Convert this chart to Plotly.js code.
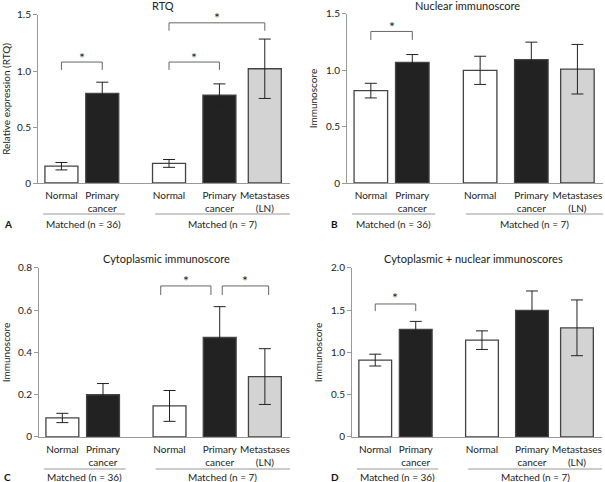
<!DOCTYPE html>
<html>
<head>
<meta charset="utf-8">
<script src="https://cdn.plot.ly/plotly-3.0.1.min.js"></script>
<style>html,body{margin:0;padding:0;background:#fff;}#chart{width:605px;height:482px;}</style>
</head>
<body>
<div id="chart"></div>
<script>
// ---- data ----
const categories = ["Normal", "Primary<br>cancer", "Normal", "Primary<br>cancer", "Metastases<br>(LN)"];
const groupLabels = ["Matched (n = 36)", "Matched (n = 7)"];
const panelTitles = ["RTQ", "Nuclear immunoscore", "Cytoplasmic immunoscore", "Cytoplasmic + nuclear immunoscores"];
const yTitles = ["Relative expression (RTQ)", "Immunoscore", "Immunoscore", "Immunoscore"];
const panelLetters = ["A", "B", "C", "D"];

const rtqMean = [0.15, 0.80, 0.175, 0.785, 1.02];
const rtqErr  = [0.033, 0.10, 0.035, 0.10, 0.265];
const nucMean = [0.82, 1.07, 1.00, 1.095, 1.01];
const nucErr  = [0.065, 0.07, 0.125, 0.155, 0.22];
const cytMean = [0.09, 0.20, 0.147, 0.471, 0.286];
const cytErr  = [0.022, 0.053, 0.073, 0.146, 0.132];
const sumMean = [0.91, 1.273, 1.146, 1.498, 1.292];
const sumErr  = [0.07, 0.095, 0.11, 0.23, 0.33];

const yTickVals = [[0, 0.5, 1.0, 1.5], [0, 0.5, 1.0, 1.5], [0, 0.2, 0.4, 0.6, 0.8], [0, 0.5, 1.0, 1.5, 2.0]];
const yTickText = [["0", "0.5", "1.0", "1.5"], ["0", "0.5", "1.0", "1.5"], ["0", "0.2", "0.4", "0.6", "0.8"], ["0", "0.5", "1.0", "1.5", "2.0"]];
const yRanges = [[0, 1.5], [0, 1.5], [0, 0.8], [0, 2.0]];

// significance comparisons: [fromIndex, toIndex] per panel (marked "*")
const sigA = [[0, 1], [2, 3], [2, 4]];
const sigB = [[0, 1]];
const sigC = [[2, 3], [3, 4]];
const sigD = [[0, 1]];

// ---- layout / style ----
const pos = [0.93, 2.55, 5.2, 7.2, 9.0];
const barW = 1.31;
const fills = ["#ffffff", "#222222", "#ffffff", "#222222", "#d3d3d3"];
const FONT = "Lato, 'Open Sans', sans-serif";
const axisCol = "#999999";
// bracket placement (top level, foot level, star level) per comparison
const bracketA = [[1.08, 1.01, 1.15], [1.08, 1.01, 1.15], [1.43, 1.36, 1.50]];
const bracketB = [[1.345, 1.27, 1.416]];
const bracketC = [[0.715, 0.672, 0.753], [0.715, 0.672, 0.753]];
const bracketD = [[1.574, 1.49, 1.69]];

const means = [rtqMean, nucMean, cytMean, sumMean];
const errs = [rtqErr, nucErr, cytErr, sumErr];
const sigs = [sigA, sigB, sigC, sigD];
const brackets = [bracketA, bracketB, bracketC, bracketD];

const xDomains = [[0.0628, 0.4793], [0.5736, 0.9967], [0.0645, 0.4793], [0.5818, 0.995]];
const yDomains = [[0.6203, 0.9689], [0.6203, 0.971], [0.0934, 0.444], [0.0934, 0.444]];

const traces = [];
const layout = {
  width: 605, height: 482,
  margin: {l: 0, r: 0, t: 0, b: 0},
  paper_bgcolor: "#fff", plot_bgcolor: "#fff",
  showlegend: false,
  font: {family: FONT, size: 10, color: "#222"},
  shapes: [], annotations: []
};

for (let p = 0; p < 4; p++) {
  const xs = p === 0 ? "x" : "x" + (p + 1);
  const ys = p === 0 ? "y" : "y" + (p + 1);
  const xk = p === 0 ? "xaxis" : "xaxis" + (p + 1);
  const yk = p === 0 ? "yaxis" : "yaxis" + (p + 1);
  traces.push({
    type: "bar", x: pos, y: means[p], xaxis: xs, yaxis: ys, width: barW,
    marker: {color: fills, line: {color: "#444", width: 1.3}},
    error_y: {type: "data", array: errs[p], visible: true, color: "#222", thickness: 1, width: 6},
    hoverinfo: "skip"
  });
  layout[xk] = {
    domain: xDomains[p], anchor: ys, range: [0, 10], fixedrange: true,
    showline: true, linecolor: axisCol, linewidth: 1,
    showgrid: false, zeroline: false, ticks: "",
    tickmode: "array", tickvals: pos, ticktext: categories,
    tickfont: {size: 10, color: "#222", family: FONT}, ticklabelstandoff: 3
  };
  layout[yk] = {
    domain: yDomains[p], anchor: xs, range: yRanges[p], fixedrange: true,
    showline: true, linecolor: axisCol, linewidth: 1,
    showgrid: false, zeroline: false, ticks: "outside", ticklen: 4, tickcolor: axisCol,
    tickmode: "array", tickvals: yTickVals[p], ticktext: yTickText[p],
    tickfont: {size: 10, color: "#222", family: FONT},
    title: {text: yTitles[p], font: {size: 10, color: "#222", family: FONT}, standoff: 6}
  };
  // group underlines and labels
  const top = p < 2;
  const lineY = top ? 1 - 214 / 482 : 1 - 469 / 482;
  const labY = top ? 1 - 224 / 482 : 1 - 477 / 482;
  const groups = [[0.2, 3.45], [4.65, 10]];
  groups.forEach((g, gi) => {
    layout.shapes.push({type: "line", xref: xs, yref: "paper", x0: g[0], x1: g[1], y0: lineY, y1: lineY,
      line: {color: axisCol, width: 1}});
    layout.annotations.push({xref: xs, yref: "paper", x: (g[0] + g[1]) / 2, y: labY, text: groupLabels[gi],
      showarrow: false, xanchor: "center", yanchor: "middle", font: {size: 10, color: "#222"}});
  });
  // panel title
  const titleX = [163, 467.5, 166, 473][p] / 605;
  const titleY = top ? 1 - 6 / 482 : 1 - 258 / 482;
  layout.annotations.push({xref: "paper", yref: "paper", x: titleX, y: titleY, text: panelTitles[p],
    showarrow: false, xanchor: "center", yanchor: "middle", font: {size: 11, color: "#222"}});
  // panel letter
  const letX = [2, 329, 2, 329][p] / 605;
  layout.annotations.push({xref: "paper", yref: "paper", x: letX, y: labY, text: "<b>" + panelLetters[p] + "</b>",
    showarrow: false, xanchor: "left", yanchor: "middle", font: {size: 10, color: "#111"}});
  // significance brackets
  sigs[p].forEach((s, si) => {
    const b = brackets[p][si];
    let x0 = pos[s[0]], x1 = pos[s[1]];
    if (p === 2) { // adjacent brackets in C are pulled apart
      if (s[0] === 2) { x0 = 4.85; x1 = 6.85; } else { x0 = 7.3; x1 = 9.15; }
    }
    layout.shapes.push({type: "path", xref: xs, yref: ys,
      path: `M ${x0},${b[1]} L ${x0},${b[0]} L ${x1},${b[0]} L ${x1},${b[1]}`,
      line: {color: "#666", width: 1}});
    layout.annotations.push({xref: xs, yref: ys, x: (x0 + x1) / 2, y: b[2], text: "*",
      showarrow: false, xanchor: "center", yanchor: "middle", yshift: -3, font: {size: 14, color: "#222"}});
  });
}

Plotly.newPlot("chart", traces, layout, {staticPlot: true});
</script>
</body>
</html>
